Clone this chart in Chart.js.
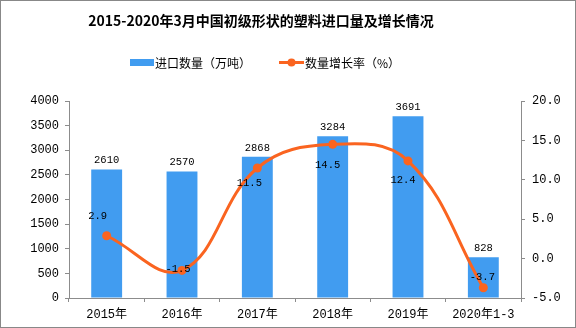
<!DOCTYPE html>
<html><head><meta charset="utf-8">
<script src="https://cdn.jsdelivr.net/npm/chart.js@4"></script>
<style>html,body{margin:0;padding:0;background:#fff}#wrap{width:576px;height:328px;position:relative}</style>
</head><body><div id="wrap"><canvas id="c" width="576" height="328"></canvas></div>
<script>
const categories = ['2015年','2016年','2017年','2018年','2019年','2020年1-3'];
const importVolume = [2610, 2570, 2868, 3284, 3691, 828];
const growthRate = [2.9, -1.5, 11.5, 14.5, 12.4, -3.7];
const leftTicks = [0, 4000, 500];
const rightTicks = [-5, 20, 5];
const titleText = '2015-2020年3月中国初级形状的塑料进口量及增长情况';
const legendLabels = ['进口数量（万吨）', '数量增长率（%）'];

const BLUE = '#419CF0';
const ORANGE = '#FA6420';
const AXIS = '#8c8c8c';
const MONO = '"Liberation Mono","Noto Sans CJK SC",monospace';
const CJK = '"Noto Sans CJK SC",sans-serif';

// label offsets relative to each line point
const lineLabelOffsets = [[-9,-20],[-4,-1],[-8,15],[-5,21],[-5,19],[-1,-11]];

const decor = {
  id: 'decor',
  beforeDraw(chart) {
    const ctx = chart.ctx;
    ctx.save();
    ctx.fillStyle = '#fff';
    ctx.fillRect(0, 0, chart.width, chart.height);
    ctx.restore();
  },
  afterDraw(chart) {
    const ctx = chart.ctx;
    ctx.save();
    ctx.strokeStyle = '#888';
    ctx.lineWidth = 1;
    ctx.strokeRect(0.5, 0.5, chart.width - 1, chart.height - 1);
    ctx.fillStyle = '#000';
    ctx.font = 'bold 14px ' + CJK;
    ctx.textAlign = 'center';
    ctx.textBaseline = 'middle';
    ctx.fillText(titleText, 261, 21);
    ctx.font = '12px ' + CJK;
    ctx.textAlign = 'left';
    ctx.fillStyle = BLUE;
    ctx.fillRect(130, 59, 24, 7);
    ctx.fillStyle = '#000';
    ctx.fillText(legendLabels[0], 155, 63);
    ctx.strokeStyle = ORANGE;
    ctx.lineWidth = 3;
    ctx.beginPath(); ctx.moveTo(279, 62.5); ctx.lineTo(304, 62.5); ctx.stroke();
    ctx.fillStyle = ORANGE;
    ctx.beginPath(); ctx.arc(291.5, 62.5, 4, 0, Math.PI * 2); ctx.fill();
    ctx.fillStyle = '#000';
    ctx.fillText(legendLabels[1], 305, 63);
    ctx.restore();
  },
  afterDatasetsDraw(chart) {
    const ctx = chart.ctx;
    ctx.save();
    ctx.fillStyle = '#000';
    ctx.font = '10.5px ' + MONO;
    ctx.textAlign = 'center';
    ctx.textBaseline = 'middle';
    const barMeta = chart.getDatasetMeta(0);
    barMeta.data.forEach((el, i) => {
      ctx.fillText(String(importVolume[i]), el.x, el.y - 9);
    });
    const lineMeta = chart.getDatasetMeta(1);
    lineMeta.data.forEach((el, i) => {
      const o = lineLabelOffsets[i];
      ctx.fillText(growthRate[i].toFixed(1), el.x + o[0], el.y + o[1]);
    });
    ctx.restore();
  }
};

new Chart(document.getElementById('c'), {
  data: {
    labels: categories,
    datasets: [
      { type: 'bar', label: legendLabels[0], data: importVolume, backgroundColor: BLUE,
        yAxisID: 'y', barPercentage: 0.41, categoryPercentage: 1, order: 2 },
      { type: 'line', label: legendLabels[1], data: growthRate, borderColor: ORANGE, backgroundColor: ORANGE,
        borderWidth: 3, pointRadius: 4.5, pointHoverRadius: 4.5, pointBorderWidth: 0, tension: 0.4,
        yAxisID: 'y2', order: 1 }
    ]
  },
  options: {
    responsive: false, animation: false, devicePixelRatio: 1,
    layout: { padding: { top: 101, left: 0, right: 0, bottom: 0 } },
    plugins: { legend: { display: false }, title: { display: false }, tooltip: { enabled: false } },
    scales: {
      x: {
        offset: true,
        grid: { display: true, drawOnChartArea: false, drawTicks: true, tickLength: 4, color: AXIS, offset: true },
        border: { color: AXIS, width: 1 },
        ticks: { color: '#000', font: { family: MONO, size: 12 }, padding: 6, maxRotation: 0, autoSkip: false },
        afterFit(s) { s.height = 30; }
      },
      y: {
        position: 'left', min: leftTicks[0], max: leftTicks[1],
        ticks: { stepSize: leftTicks[2], color: '#000', font: { family: MONO, size: 12 }, padding: 6,
                 callback: v => String(v) },
        grid: { display: true, drawOnChartArea: false, drawTicks: true, tickLength: 4, color: AXIS },
        border: { color: AXIS, width: 1 },
        afterFit(s) { s.width = 69; }
      },
      y2: {
        position: 'right', min: rightTicks[0], max: rightTicks[1],
        ticks: { stepSize: rightTicks[2], color: '#000', font: { family: MONO, size: 12 }, padding: 7,
                 callback: v => Number(v).toFixed(1) },
        grid: { display: true, drawOnChartArea: false, drawTicks: true, tickLength: 4, color: AXIS },
        border: { color: AXIS, width: 1 },
        afterFit(s) { s.width = 55; }
      }
    }
  },
  plugins: [decor]
});
</script></body></html>
